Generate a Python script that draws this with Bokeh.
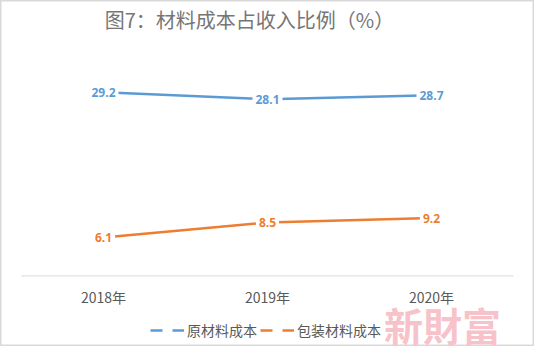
from bokeh.plotting import figure
from bokeh.models import (ColumnDataSource, LabelSet, Label, Legend, LegendItem,
                          Range1d, FactorRange)
from bokeh.core.properties import value
from bokeh.embed import file_html
from bokeh.resources import INLINE

# ---- data ----
years = ["2018年", "2019年", "2020年"]
raw_material = [29.2, 28.1, 28.7]
packaging = [6.1, 8.5, 9.2]
series_names = ["原材料成本", "包装材料成本"]
title_text = "图7：材料成本占收入比例（%）"
watermark_text = "新財富"

BLUE = "#5B9BD5"
ORANGE = "#ED7D31"
GRAY = "#595959"
TITLE_GRAY = "#767676"
CJK = "Noto Sans CJK SC"

# frame covers the whole figure; value axis 0 sits at the chart baseline
p = figure(x_range=FactorRange(*years, range_padding=0.128, range_padding_units="absolute"),
           y_range=Range1d(-11.22, 43.78),
           width=534, height=346, output_backend="svg", toolbar_location=None,
           y_axis_location=None,
           min_border_left=0, min_border_right=0,
           min_border_top=0, min_border_bottom=0)
p.outline_line_color = "#d9d9d9"
p.outline_line_width = 2
p.xgrid.visible = False
p.ygrid.visible = False
p.background_fill_color = "white"
p.border_fill_color = "white"

ax = p.xaxis[0]
ax.fixed_location = 0
ax.axis_line_color = None
ax.major_tick_line_color = None
ax.minor_tick_line_color = None
ax.major_tick_out = 0
ax.major_tick_in = 0
ax.major_label_standoff = 11
ax.major_label_text_font = CJK
ax.major_label_text_font_size = "14px"
ax.major_label_text_color = GRAY

# baseline spanning the category band
p.segment(x0=[0], y0=[0], x1=[len(years)], y1=[0], line_color="#d9d9d9", line_width=1)

src1 = ColumnDataSource(dict(x=years, y=raw_material, t=[f"{v:.1f}" for v in raw_material]))
src2 = ColumnDataSource(dict(x=years, y=packaging, t=[f"{v:.1f}" for v in packaging]))

p.line("x", "y", source=src1, line_color=BLUE, line_width=2.5)
p.line("x", "y", source=src2, line_color=ORANGE, line_width=2.5)

for src, col in ((src1, BLUE), (src2, ORANGE)):
    ls = LabelSet(x="x", y="y", text="t", source=src, text_align="center",
                  text_baseline="middle", text_color=col, text_font_style="bold",
                  text_font=value("Open Sans"), text_font_size="12px",
                  background_fill_color="white",
                  border_line_color="white", border_line_width=6)
    p.add_layout(ls)

# legend proxies: dashed sample lines with no drawable points
nan = float("nan")
proxy = ColumnDataSource(dict(x=years, y=[nan] * len(years)))
l1 = p.line("x", "y", source=proxy, line_color=BLUE, line_width=2.5, line_dash="12 10")
l2 = p.line("x", "y", source=proxy, line_color=ORANGE, line_width=2.5, line_dash="12 10")
legend = Legend(items=[LegendItem(label=series_names[0], renderers=[l1]),
                       LegendItem(label=series_names[1], renderers=[l2])],
                orientation="horizontal", location=(150, 6),
                glyph_width=34, glyph_height=20, label_standoff=3, spacing=3,
                padding=0, margin=0, border_line_color=None,
                background_fill_alpha=0,
                label_text_font=CJK, label_text_font_size="14px",
                label_text_color=GRAY, label_height=20)
p.add_layout(legend, "center")

title = Label(x=1.5, y=40.76, x_offset=-18, text=title_text, text_align="center",
              text_baseline="middle", text_font=CJK, text_font_size="20px",
              text_color=TITLE_GRAY)
p.add_layout(title)

wm = Label(x=2.5, y=-7.25, x_offset=11, y_offset=-2, text=watermark_text,
           text_align="center", text_baseline="middle",
           text_font="Noto Sans CJK TC", text_font_size="39px",
           text_font_style="bold", text_color="#f7c2c9")
p.add_layout(wm)

open("out.html", "w").write(file_html(p, INLINE))
